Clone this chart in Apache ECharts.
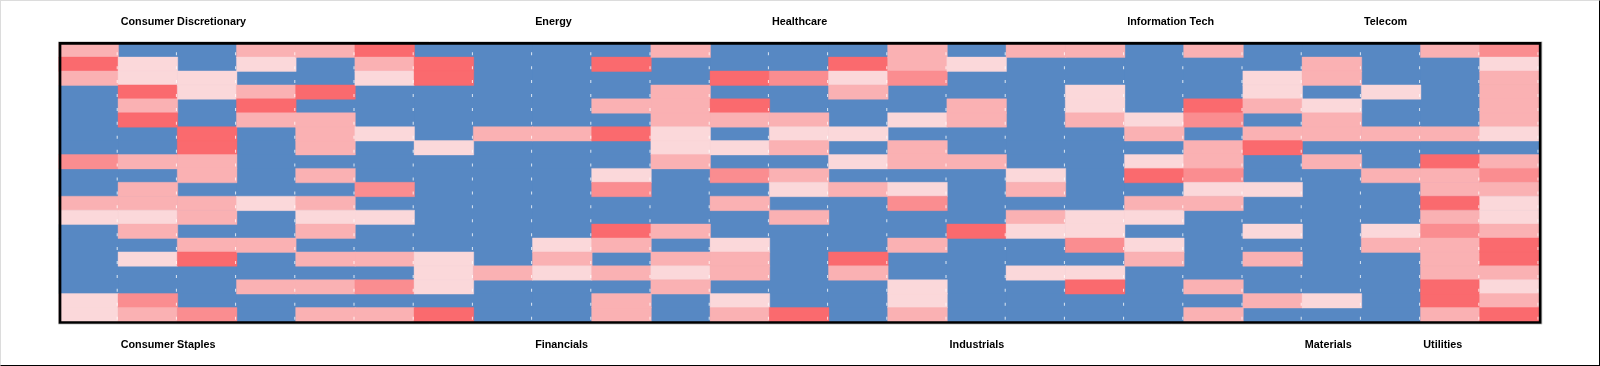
<!DOCTYPE html>
<html>
<head>
<meta charset="utf-8">
<script src="https://cdn.jsdelivr.net/npm/echarts@6/dist/echarts.min.js"></script>
<style>
  html, body { margin: 0; padding: 0; background: #fff; }
  #chart {
    width: 1600px; height: 366px; box-sizing: border-box;
    border-style: solid; border-width: 1px;
    border-color: #dcdcdc #000 #000 #dcdcdc;
  }
</style>
</head>
<body>
<div id="chart"></div>
<script>
// sector names, by the column edge they start at
const topSectors = { 1: 'Consumer Discretionary', 8: 'Energy', 12: 'Healthcare', 18: 'Information Tech', 22: 'Telecom' }
const bottomSectors = { 1: 'Consumer Staples', 8: 'Financials', 15: 'Industrials', 21: 'Materials', 23: 'Utilities' }

// colour level of every cell, one list per column, top row first
const c0 = [2, 4, 2, 0, 0, 0, 0, 0, 3, 0, 0, 2, 1, 0, 0, 0, 0, 0, 1, 1]
const c1 = [0, 1, 1, 4, 2, 4, 0, 0, 2, 0, 2, 2, 1, 2, 0, 1, 0, 0, 3, 2]
const c2 = [0, 0, 1, 1, 0, 0, 4, 4, 2, 2, 0, 2, 2, 0, 2, 4, 0, 0, 0, 3]
const c3 = [2, 1, 0, 2, 4, 2, 0, 0, 0, 0, 0, 1, 0, 0, 2, 0, 0, 2, 0, 0]
const c4 = [2, 0, 0, 4, 0, 2, 2, 2, 0, 2, 0, 2, 1, 2, 0, 2, 0, 2, 0, 2]
const c5 = [4, 2, 1, 0, 0, 0, 1, 0, 0, 0, 3, 0, 1, 0, 0, 2, 0, 3, 0, 2]
const c6 = [0, 4, 4, 0, 0, 0, 0, 1, 0, 0, 0, 0, 0, 0, 0, 1, 1, 1, 0, 4]
const c7 = [0, 0, 0, 0, 0, 0, 2, 0, 0, 0, 0, 0, 0, 0, 0, 0, 2, 0, 0, 0]
const c8 = [0, 0, 0, 0, 0, 0, 2, 0, 0, 0, 0, 0, 0, 0, 1, 2, 1, 0, 0, 0]
const c9 = [0, 4, 0, 0, 2, 0, 4, 0, 0, 1, 3, 0, 0, 4, 2, 0, 2, 0, 2, 2]
const c10 = [2, 0, 0, 2, 2, 2, 1, 1, 2, 0, 0, 0, 0, 2, 0, 2, 1, 2, 0, 0]
const c11 = [0, 0, 4, 0, 4, 2, 0, 1, 0, 3, 0, 2, 0, 0, 1, 2, 2, 0, 1, 2]
const c12 = [0, 0, 3, 0, 0, 2, 1, 2, 0, 2, 1, 0, 2, 0, 0, 0, 0, 0, 0, 4]
const c13 = [0, 4, 1, 2, 0, 0, 1, 0, 1, 0, 2, 0, 0, 0, 0, 4, 2, 0, 0, 0]
const c14 = [2, 2, 3, 0, 0, 1, 0, 2, 2, 0, 1, 3, 0, 0, 2, 0, 0, 1, 1, 2]
const c15 = [0, 1, 0, 0, 2, 2, 0, 0, 2, 0, 0, 0, 0, 4, 0, 0, 0, 0, 0, 0]
const c16 = [2, 0, 0, 0, 0, 0, 0, 0, 0, 1, 2, 0, 2, 1, 0, 0, 1, 0, 0, 0]
const c17 = [2, 0, 0, 1, 1, 2, 0, 0, 0, 0, 0, 0, 1, 1, 3, 0, 1, 4, 0, 0]
const c18 = [0, 0, 0, 0, 0, 1, 2, 0, 1, 4, 0, 2, 1, 0, 1, 2, 0, 0, 0, 0]
const c19 = [2, 0, 0, 0, 4, 3, 0, 2, 2, 3, 1, 2, 0, 0, 0, 0, 0, 2, 0, 2]
const c20 = [0, 0, 1, 1, 2, 0, 2, 4, 0, 0, 1, 0, 0, 1, 0, 2, 0, 0, 2, 0]
const c21 = [0, 2, 2, 0, 1, 2, 2, 0, 2, 0, 0, 0, 0, 0, 0, 0, 0, 0, 1, 0]
const c22 = [0, 0, 0, 1, 0, 0, 2, 0, 0, 2, 0, 0, 0, 1, 2, 0, 0, 0, 0, 0]
const c23 = [2, 0, 0, 0, 0, 0, 2, 0, 4, 2, 2, 4, 2, 3, 2, 2, 2, 4, 4, 2]
const c24 = [3, 1, 2, 2, 2, 2, 1, 0, 2, 3, 2, 1, 1, 2, 4, 4, 2, 1, 2, 4]
const columns = [c0, c1, c2, c3, c4, c5, c6, c7, c8, c9, c10, c11, c12, c13, c14, c15, c16, c17, c18, c19, c20, c21, c22, c23, c24]

const levelColors = ['#5788c3', '#fbd8da', '#fab1b3', '#fa8d90', '#fa6a6e']
const levelEdges = ['transparent', 'rgba(251,216,218,0.4)', 'rgba(250,177,179,0.4)', 'rgba(250,141,144,0.4)', 'rgba(250,106,110,0.4)']

const colNames = columns.map((c, i) => 'C' + i)
const rowNames = c0.map((v, i) => 'R' + i)
const cells = []
const marks = []
columns.forEach((col, x) => col.forEach((v, y) => {
  cells.push({ value: [x, y, v], itemStyle: { borderColor: levelEdges[v] } })
  marks.push([x, y])
}))
// blue first, so it never paints over the soft edge of a pink cell
cells.sort((a, b) => (a.value[2] > 0) - (b.value[2] > 0))

const edgeNames = names => Array.from({ length: columns.length + 1 }, (v, i) => names[i] || '')

const sectorAxis = (position, names, margin) => ({
  type: 'category', gridIndex: 1, position, boundaryGap: false, data: edgeNames(names),
  axisLine: { show: false }, axisTick: { show: false }, splitLine: { show: false },
  axisLabel: { show: true, interval: 0, align: 'left', padding: [0, 0, 0, 1.5], margin, color: '#000', fontFamily: 'Liberation Sans', fontWeight: 'bold', fontSize: 10.8 }
})

// offsets are chart px: the chart sits inside a 1px page frame
// blue behind the cells hides the hairline seams between blue neighbours
const cellGrid = { show: true, left: 58.1, top: 42.4, width: 1480, height: 278.3, backgroundColor: levelColors[0], borderWidth: 0, z: 1 }
const frameGrid = { show: true, left: 59, top: 42.4, width: 1480.2, height: 279.1, borderColor: '#000', borderWidth: 2.7, z: 5 }
const haloGrid = { show: true, left: 57.5, top: 40.5, width: 1483.5, height: 282.7, borderColor: '#d8d8d8', borderWidth: 1, z: 0 }

const chart = echarts.init(document.getElementById('chart'), null, { renderer: 'canvas', width: 1598, height: 364 })
chart.setOption({
  animation: false,
  backgroundColor: '#fff',
  grid: [cellGrid, frameGrid, haloGrid],
  xAxis: [
    { type: 'category', gridIndex: 0, data: colNames, show: false },
    sectorAxis('top', topSectors, 16),
    sectorAxis('bottom', bottomSectors, 17),
    { type: 'category', gridIndex: 2, show: false, data: colNames }
  ],
  yAxis: [
    { type: 'category', gridIndex: 0, data: rowNames, inverse: true, show: false },
    { type: 'category', gridIndex: 1, data: rowNames, show: false },
    { type: 'category', gridIndex: 2, data: rowNames, show: false }
  ],
  visualMap: {
    show: false, type: 'piecewise', seriesIndex: 0, dimension: 2,
    pieces: levelColors.map((color, i) => ({ value: i, color }))
  },
  series: [
    {
      type: 'heatmap', xAxisIndex: 0, yAxisIndex: 0, data: cells, z: 1,
      itemStyle: { borderWidth: 1 }, emphasis: { disabled: true }
    },
    {
      // small white marks near the right end of each cell
      type: 'scatter', xAxisIndex: 0, yAxisIndex: 0, data: marks, z: 2, silent: true,
      symbol: 'rect', symbolSize: [1, 3], symbolOffset: [28.5, 3.4],
      itemStyle: { color: '#fff' }
    }
  ]
})
window.addEventListener('resize', () => chart.resize())
</script>
</body>
</html>
